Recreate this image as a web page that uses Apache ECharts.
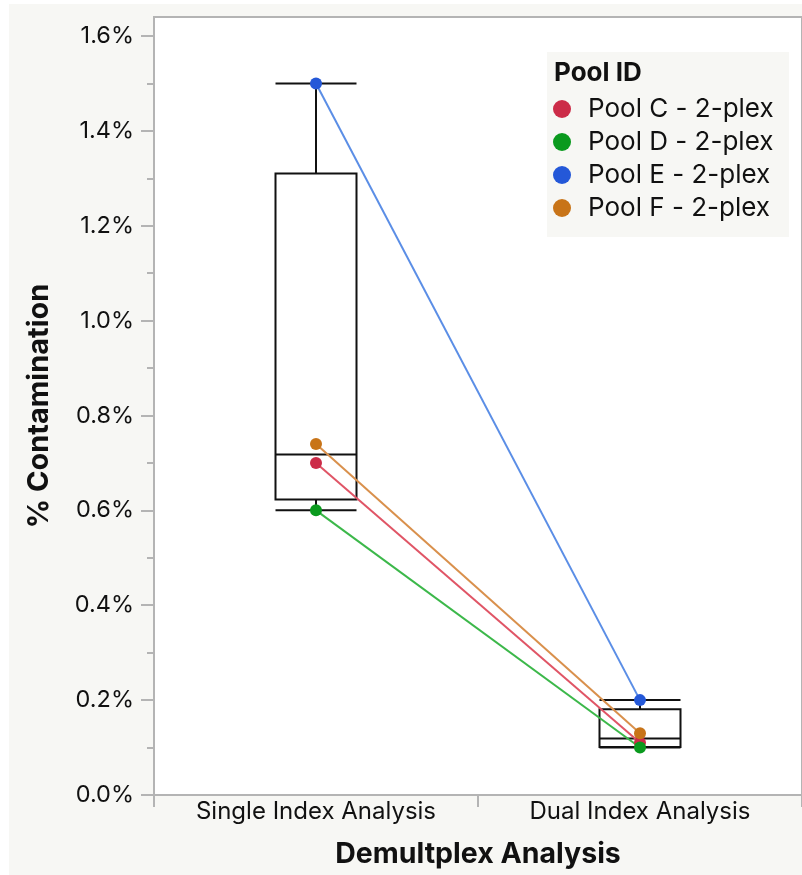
<!DOCTYPE html>
<html>
<head>
<meta charset="utf-8">
<script src="https://cdn.jsdelivr.net/npm/echarts@6/dist/echarts.min.js"></script>
<style>
  html, body { margin: 0; padding: 0; background: #fff; }
  #chart { position: absolute; left: 9px; top: 4px; width: 793px; height: 871px; }
</style>
</head>
<body>
<div id="chart"></div>
<script>
// categories
const categories = ["Single Index Analysis", "Dual Index Analysis"];
// box stats [min, Q1, median, Q3, max] in %
const boxSingle = [0.60, 0.623, 0.718, 1.31, 1.50];
const boxDual = [0.10, 0.101, 0.119, 0.181, 0.20];
// pools (single, dual)
const poolNames = ["Pool C - 2-plex", "Pool D - 2-plex", "Pool E - 2-plex", "Pool F - 2-plex"];
const poolC = [0.70, 0.11];
const poolD = [0.60, 0.10];
const poolE = [1.50, 0.20];
const poolF = [0.74, 0.13];
const majorTicks = [0, 0.2, 0.4, 0.6, 0.8, 1.0, 1.2, 1.4, 1.6];
const minorTicks = [0.1, 0.3, 0.5, 0.7, 0.9, 1.1, 1.3, 1.5];

const dotColors = ["#cc2c48", "#0a9a1e", "#2458d8", "#c87418"];
const lineColors = ["#e05566", "#3cb84a", "#5b8ee6", "#d9904c"];
const font = "Inter";
const gray = "#b4b4b4";

const chart = echarts.init(document.getElementById("chart"));

const pools = [poolC, poolD, poolE, poolF];
const lineSeries = pools.map((d, i) => ({
  name: poolNames[i],
  type: "line",
  data: d,
  symbol: "circle",
  symbolSize: 12,
  z: 5,
  itemStyle: { color: dotColors[i] },
  lineStyle: { color: lineColors[i], width: 2 },
  animation: false
}));

const option = {
  backgroundColor: "#f7f7f4",
  textStyle: { fontFamily: font },
  grid: {
    left: 145, top: 13, right: 0, bottom: 80,
    show: true, backgroundColor: "#fff", borderColor: gray, borderWidth: 2
  },
  graphic: [
    { type: "rect", left: 538, top: 48, shape: { width: 242, height: 185 }, style: { fill: "#f7f7f4" }, z: 10 },
    { type: "text", left: 545, top: 56, style: { text: "Pool ID", font: "bold 26px " + font, fill: "#111" }, z: 11 }
  ],
  legend: {
    orient: "vertical",
    left: 539, top: 87,
    itemWidth: 42, itemHeight: 18, itemGap: 7,
    icon: "circle",
    textStyle: { fontSize: 26, color: "#111", lineHeight: 20, fontFamily: font },
    data: poolNames,
    z: 12
  },
  xAxis: {
    type: "category",
    data: categories,
    name: "Demultplex Analysis",
    nameLocation: "middle",
    nameGap: 45,
    nameTextStyle: { fontSize: 28.5, fontWeight: "bold", color: "#111" },
    axisLine: { lineStyle: { color: gray, width: 2 } },
    axisTick: { show: true, length: 12, lineStyle: { color: gray, width: 2 } },
    axisLabel: { fontSize: 24, color: "#111", margin: 5 }
  },
  yAxis: [
    {
      type: "value",
      min: 0, max: 1.64, interval: 0.2,
      name: "% Contamination",
      nameLocation: "middle",
      nameGap: 100,
      nameTextStyle: { fontSize: 29, fontWeight: "bold", color: "#111" },
      axisLine: { show: true, lineStyle: { color: gray, width: 2 } },
      axisTick: { show: true, length: 13, customValues: majorTicks, lineStyle: { color: gray, width: 2 } },
      axisLabel: { fontSize: 23.5, color: "#111", margin: 20, customValues: majorTicks, formatter: v => v.toFixed(1) + "%" },
      splitLine: { show: false }
    },
    {
      type: "value",
      position: "left",
      min: 0, max: 1.64,
      axisLine: { show: false },
      axisTick: { show: true, length: 7, customValues: minorTicks, lineStyle: { color: gray, width: 2 } },
      axisLabel: { show: false },
      splitLine: { show: false }
    }
  ],
  series: [
    {
      type: "boxplot",
      data: [boxSingle, boxDual],
      boxWidth: [81, 81],
      itemStyle: { color: "rgba(0,0,0,0)", borderColor: "#111", borderWidth: 2 },
      z: 2,
      animation: false
    }
  ].concat(lineSeries)
};

chart.setOption(option);
</script>
</body>
</html>
